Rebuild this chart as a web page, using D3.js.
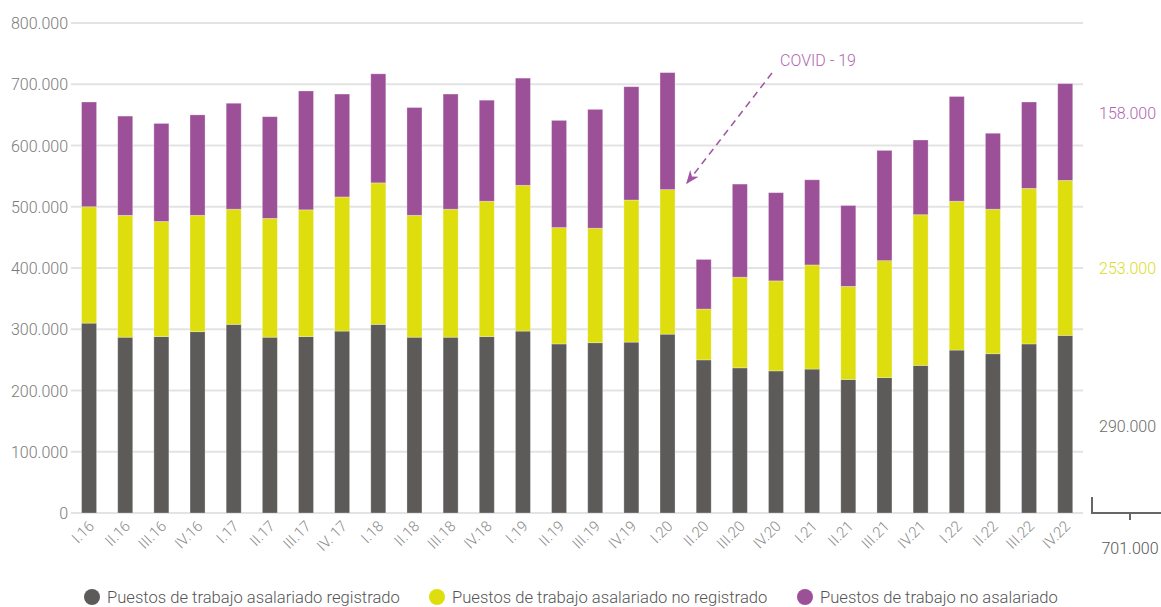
<!DOCTYPE html>
<html>
<head>
<meta charset="utf-8">
<script src="https://cdn.jsdelivr.net/npm/d3@7"></script>
<style>
  body { margin: 0; background: #fff; }
  text { font-family: Roboto, sans-serif; font-weight: 300; }
</style>
</head>
<body>
<script>
// quarters
var quarters = ["I.16","II.16","III.16","IV.16","I.17","II.17","III.17","IV. 17",
  "I.18","II.18","III.18","IV.18","I.19","II.19","III.19","IV.19",
  "I.20","II.20","III.20","IV.20","I.21","II.21","III.21","IV.21",
  "I.22","II.22","III.22","IV.22"];

// miles de puestos
var registrado = [310,287,288,296,308,287,288,297,308,287,287,288,297,276,278,279,
  292,250,237,232,235,218,221,241,266,260,276,290];
var noRegistrado = [190,199,188,190,188,194,207,219,231,199,209,221,238,190,187,232,
  236,83,148,147,170,152,191,246,243,236,254,253];
var noAsalariado = [171,162,160,164,173,166,194,168,178,176,188,165,175,175,194,185,
  191,81,152,144,139,132,180,122,171,124,141,158];

var yTicks = [0,100000,200000,300000,400000,500000,600000,700000,800000];
var seriesNames = ["Puestos de trabajo asalariado registrado",
  "Puestos de trabajo asalariado no registrado",
  "Puestos de trabajo no asalariado"];
var colors = ["#5d5b59", "#dedd0e", "#9c5098"];
var textColors = ["#6a6a6a", "#dcdc1c", "#b066b0"];

var w = 1161, h = 607;

var svg = d3.select("body").append("svg")
  .attr("width", w)
  .attr("height", h);

var x = d3.scaleBand()
  .domain(quarters)
  .range([71, 1083.3])
  .paddingInner(0.585)
  .paddingOuter(0.2925);

var y = d3.scaleLinear()
  .domain([0, 800000])
  .range([513, 23]);

// gridlines
svg.selectAll("line.grid")
  .data(yTicks)
  .enter()
  .append("line")
  .attr("class", "grid")
  .attr("x1", 71)
  .attr("x2", 1083)
  .attr("y1", function(d) { return y(d); })
  .attr("y2", function(d) { return y(d); })
  .attr("stroke", "#e3e3e3")
  .attr("stroke-width", 2);

svg.selectAll("text.ytick")
  .data(yTicks)
  .enter()
  .append("text")
  .attr("class", "ytick")
  .attr("x", 68)
  .attr("y", function(d) { return y(d) + 6; })
  .attr("text-anchor", "end")
  .attr("font-size", "16px")
  .attr("fill", "#7a7a7a")
  .text(function(d) { return d3.format(",")(d).replace(/,/g, "."); });

// stacked data
var rows = quarters.map(function(q, i) {
  return { q: q, a: registrado[i] * 1000, b: noRegistrado[i] * 1000, c: noAsalariado[i] * 1000 };
});
var stack = d3.stack().keys(["a", "b", "c"])(rows);

svg.selectAll("g.layer")
  .data(stack)
  .enter()
  .append("g")
  .attr("class", "layer")
  .attr("fill", function(d, i) { return colors[i]; })
  .selectAll("rect")
  .data(function(d) { return d; })
  .enter()
  .append("rect")
  .attr("x", function(d) { return x(d.data.q); })
  .attr("width", x.bandwidth())
  .attr("y", function(d) { return y(d[1]); })
  .attr("height", function(d) { return y(d[0]) - y(d[1]); })
  .attr("stroke", "#fff")
  .attr("stroke-opacity", 0.35)
  .attr("stroke-width", 0.8);

// x labels (rotated)
svg.selectAll("g.xlab")
  .data(quarters)
  .enter()
  .append("g")
  .attr("class", "xlab")
  .attr("transform", function(d) {
    return "translate(" + (x(d) + x.bandwidth() / 2 + 6) + ",527)";
  })
  .append("text")
  .attr("transform", "rotate(-45)")
  .attr("text-anchor", "end")
  .attr("font-size", "15px")
  .attr("fill", "#8a8a8a")
  .text(function(d) { return d; });

// COVID annotation
svg.append("defs").append("marker")
  .attr("id", "arr")
  .attr("viewBox", "0 0 10 10")
  .attr("refX", 9).attr("refY", 5)
  .attr("markerWidth", 9).attr("markerHeight", 9)
  .attr("orient", "auto")
  .append("path")
  .attr("d", "M0,1 L10,5 L0,9 L3,5 Z")
  .attr("fill", "#a155a2");

svg.append("line")
  .attr("x1", 772).attr("y1", 73)
  .attr("x2", 687).attr("y2", 183)
  .attr("stroke", "#a155a2")
  .attr("stroke-width", 1.5)
  .attr("stroke-dasharray", "7,5")
  .attr("marker-end", "url(#arr)");

svg.append("text")
  .attr("x", 818).attr("y", 66)
  .attr("text-anchor", "middle")
  .attr("font-size", "16px")
  .attr("fill", "#b066b0")
  .text("COVID - 19");

// right side: last quarter breakdown
var last = quarters.length - 1;
var rightVals = [registrado[last], noRegistrado[last], noAsalariado[last]];
var rightPos = [142000, 400000, 653000];
svg.selectAll("text.rlab")
  .data(rightVals)
  .enter()
  .append("text")
  .attr("class", "rlab")
  .attr("x", 1099)
  .attr("y", function(d, i) { return y(rightPos[i]) + 6; })
  .attr("font-size", "16px")
  .attr("fill", function(d, i) { return textColors[i]; })
  .text(function(d) { return d + ".000"; });

svg.append("path")
  .attr("d", "M1092,497 V513 H1161 M1130,513 V520")
  .attr("fill", "none")
  .attr("stroke", "#666")
  .attr("stroke-width", 2);

svg.append("text")
  .attr("x", 1130).attr("y", 554)
  .attr("text-anchor", "middle")
  .attr("font-size", "16px")
  .attr("fill", "#555")
  .text(d3.sum(rightVals) + ".000");

// legend
var legX = [92, 437, 805];
var leg = svg.selectAll("g.leg")
  .data(seriesNames)
  .enter()
  .append("g")
  .attr("class", "leg")
  .attr("transform", function(d, i) { return "translate(" + legX[i] + ",597)"; });

leg.append("circle")
  .attr("r", 8)
  .attr("fill", function(d, i) { return colors[i]; });

leg.append("text")
  .attr("x", 15)
  .attr("y", 6)
  .attr("font-size", "16.6px")
  .attr("fill", "#555")
  .text(function(d) { return d; });
</script>
</body>
</html>
